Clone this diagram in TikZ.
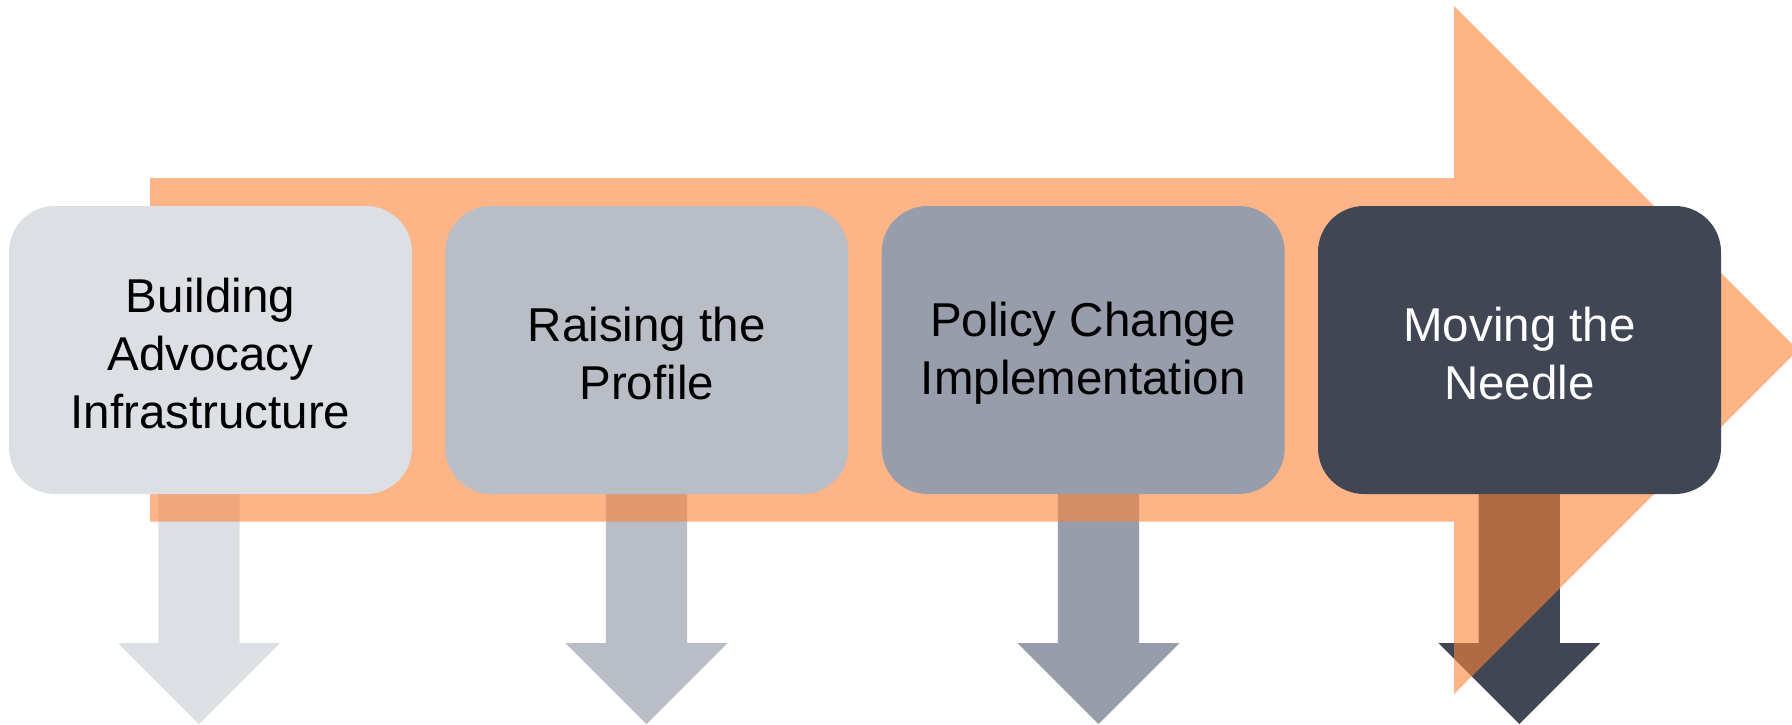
\documentclass[tikz,border=0pt]{standalone}
\usepackage{fontspec}
\setmainfont{Liberation Sans}
\definecolor{cA}{HTML}{DCDFE3}
\definecolor{cB}{HTML}{B9BDC5}
\definecolor{cC}{HTML}{979DAA}
\definecolor{cD}{HTML}{404653}
\definecolor{orng}{RGB}{252,132,55}
\tikzset{
  stagebox/.style={draw=none, rounded corners=46pt, minimum width=403pt, minimum height=288pt,
    inner sep=0pt},
  stagetext/.style={inner sep=0pt, align=center, font=\fontsize{47.5}{58}\selectfont},
  downarrow/.style={draw=none},
  bigarrow/.style={fill=orng, fill opacity=0.6, draw=none}
}
\newcommand{\darrow}[2]{%
  \fill[downarrow,#2] (#1-40.6,480) -- (#1+40.6,480) -- (#1+40.6,643) -- (#1+81,643)
    -- (#1,724) -- (#1-81,643) -- (#1-40.6,643) -- cycle;}
\begin{document}
\begin{tikzpicture}[x=1pt,y=-1pt]
\useasboundingbox (0,0) rectangle (1792,724);
\clip (0,0) rectangle (1792,724);
\fill[white] (0,0) rectangle (1792,724);
% down arrows
\darrow{199}{cA}
\darrow{646.5}{cB}
\darrow{1098.5}{cC}
\darrow{1519.3}{cD}
% big orange arrow
\fill[bigarrow] (150,178) -- (1454,178) -- (1454,6) -- (1798,350) -- (1454,694)
  -- (1454,521.7) -- (150,521.7) -- cycle;
% stage boxes
\node[stagebox, fill=cA] (s1) at (210.5,350) {};
\node[stagebox, fill=cB] (s2) at (646.8,350) {};
\node[stagebox, fill=cC] (s3) at (1083.2,350) {};
\node[stagebox, fill=cD] (s4) at (1519.5,350) {};
\node[stagetext, text=black] (t1) at ([yshift=-3.5pt]s1.center) {Building\\Advocacy\\Infrastructure};
\node[stagetext, text=black] (t2) at ([yshift=-3.5pt]s2.center) {Raising the\\Profile};
\node[stagetext, text=black] (t3) at ([yshift=-3.5pt]s3.center) {Policy Change\\Implementation};
\node[stagetext, text=white] (t4) at ([yshift=-3.5pt]s4.center) {Moving the\\Needle};
\end{tikzpicture}
\end{document}
